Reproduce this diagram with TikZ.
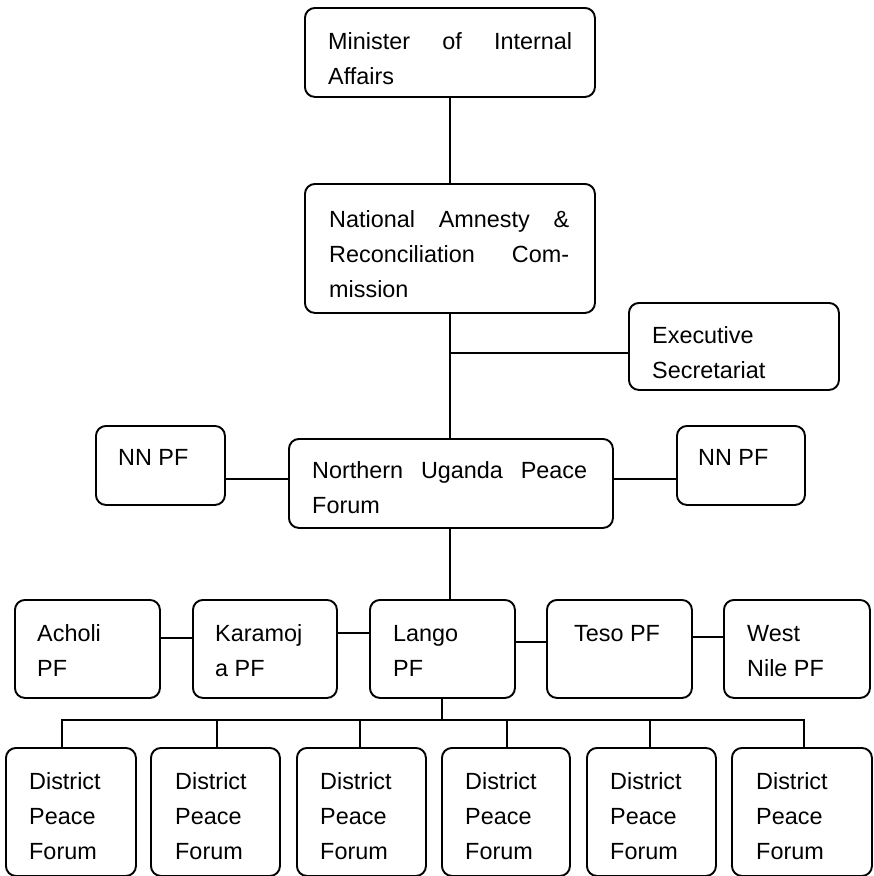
\documentclass[tikz,border=0pt]{standalone}
\usepackage{fontspec}
\setmainfont{Liberation Sans}
\newcommand\mybox[5]{\node[box,minimum width={(#4-#2)*1pt},minimum height={(#5-#3)*1pt}] (#1) at (#2,#3) {};}
\newcommand\mytext[5]{\node[lbl] (#1) at (#2,#3) {\parbox[t]{#4pt}{#5}};}
\begin{document}
\begin{tikzpicture}[x=1pt,y=-1pt,
  box/.style={draw, line width=1.9pt, rounded corners=10pt, inner sep=0pt, anchor=north west},
  lbl/.style={inner sep=0pt, anchor=base west, font=\fontsize{23.4}{35}\selectfont},
  conn/.style={line width=1.9pt}]
\useasboundingbox (0,0) rectangle (874,876);
% boxes
\mybox{m}{304}{7}{594}{96}
\mybox{n}{304}{183}{594}{312}
\mybox{ex}{628}{302}{838}{389}
\mybox{nnl}{95}{425}{224}{504}
\mybox{nu}{288}{438}{612}{527}
\mybox{nnr}{676}{425}{804}{504}
\mybox{ac}{14}{599}{159}{697}
\mybox{ka}{192}{599}{336}{697}
\mybox{la}{369}{599}{514}{697}
\mybox{te}{546}{599}{691}{697}
\mybox{wn}{723}{599}{869}{697}
\mybox{d1}{5}{747}{135}{875}
\mybox{d2}{150}{747}{279}{875}
\mybox{d3}{296}{747}{425}{875}
\mybox{d4}{441}{747}{569}{875}
\mybox{d5}{586}{747}{715}{875}
\mybox{d6}{731}{747}{871}{875}
% texts
\mytext{tm}{328}{49}{244}{Minister\hfill of\hfill Internal\\Affairs}
\mytext{tn}{329}{227}{240}{National\hfill Amnesty\hfill \&\\Reconciliation\hfill Com-\\mission}
\mytext{tex}{652}{343}{180}{Executive\\Secretariat}
\mytext{tnnl}{118}{465}{100}{NN PF}
\mytext{tnu}{312}{478}{275}{Northern\hfill Uganda\hfill Peace\\Forum}
\mytext{tnnr}{698}{465}{100}{NN PF}
\mytext{tac}{37}{641}{110}{Acholi\\PF}
\mytext{tka}{215}{641}{110}{Karamoj\\a PF}
\mytext{tla}{393}{641}{110}{Lango\\PF}
\mytext{tte}{574}{641}{110}{Teso PF}
\mytext{twn}{747}{641}{110}{West\\Nile PF}
\mytext{td1}{29}{789}{100}{District\\Peace\\Forum}
\mytext{td2}{175}{789}{100}{District\\Peace\\Forum}
\mytext{td3}{320}{789}{100}{District\\Peace\\Forum}
\mytext{td4}{465}{789}{100}{District\\Peace\\Forum}
\mytext{td5}{610}{789}{100}{District\\Peace\\Forum}
\mytext{td6}{756}{789}{100}{District\\Peace\\Forum}
% connectors
\coordinate (cx) at (450,0);
\draw[conn] (cx |- m.south) -- (cx |- n.north);
\draw[conn] (cx |- n.south) -- (cx |- nu.north);
\coordinate (j1) at (450,353);
\draw[conn] (j1) -- (j1 -| ex.west);
\coordinate (yl) at (0,479);
\draw[conn] (yl -| nnl.east) -- (yl -| nu.west);
\draw[conn] (yl -| nu.east) -- (yl -| nnr.west);
\draw[conn] (cx |- nu.south) -- (cx |- la.north);
\coordinate (r1) at (0,638);
\coordinate (r2) at (0,633);
\coordinate (r3) at (0,642);
\coordinate (r4) at (0,637);
\draw[conn] (r1 -| ac.east) -- (r1 -| ka.west);
\draw[conn] (r2 -| ka.east) -- (r2 -| la.west);
\draw[conn] (r3 -| la.east) -- (r3 -| te.west);
\draw[conn] (r4 -| te.east) -- (r4 -| wn.west);
\coordinate (bus) at (442,720);
\draw[conn] (bus |- la.south) -- (bus);
\coordinate (b1) at (62,720);
\coordinate (b2) at (217,720);
\coordinate (b3) at (360,720);
\coordinate (b4) at (507,720);
\coordinate (b5) at (650,720);
\coordinate (b6) at (804,720);
\draw[conn] (b1 |- d1.north) -- (b1) -- (b6) -- (b6 |- d6.north);
\draw[conn] (b2) -- (b2 |- d2.north);
\draw[conn] (b3) -- (b3 |- d3.north);
\draw[conn] (b4) -- (b4 |- d4.north);
\draw[conn] (b5) -- (b5 |- d5.north);
\end{tikzpicture}
\end{document}
